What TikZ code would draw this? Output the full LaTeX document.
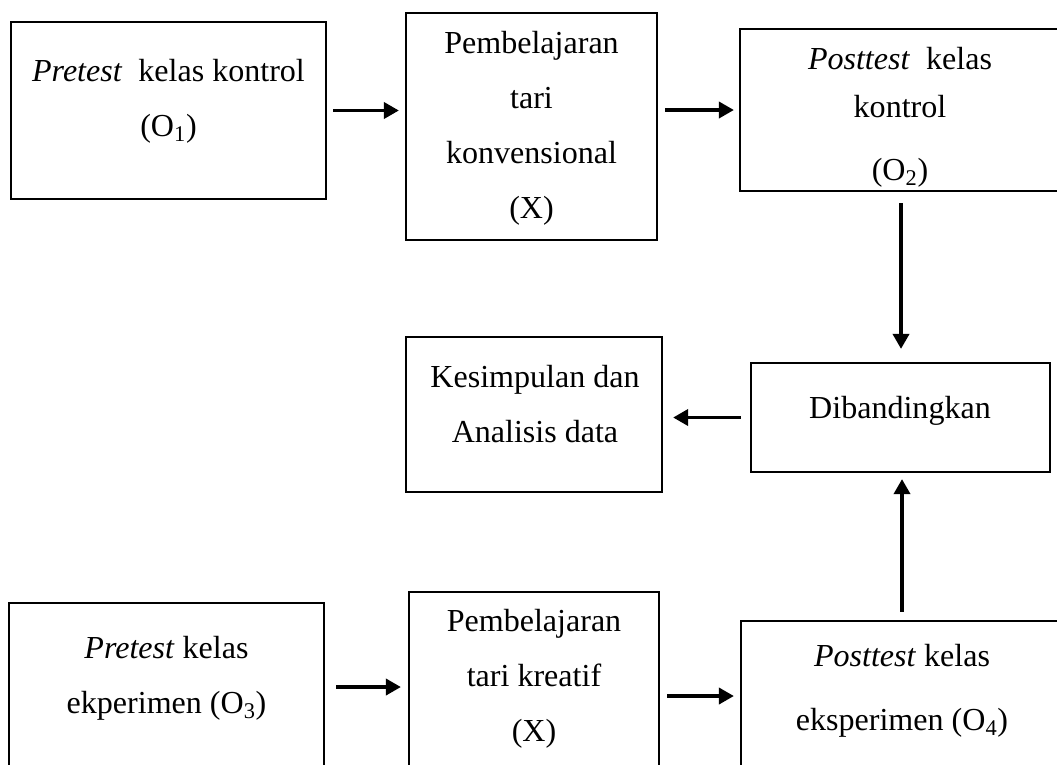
\documentclass[tikz,border=0pt]{standalone}
\usepackage{fontspec}
\setmainfont{Liberation Serif}
\usetikzlibrary{arrows.meta}

\begin{document}
\begin{tikzpicture}[
  >={Triangle[length=0.375cm,width=0.4cm]},
  box/.style={draw, line width=0.055cm, inner sep=0pt},
  txt/.style={align=center, inner sep=0pt, font=\fontsize{22.8}{39.1}\selectfont},
  arr/.style={->, line width=0.09cm},
]
\useasboundingbox (0,0) rectangle (26.425,-19.1);

% Kelas kontrol
\node[box, minimum width=7.875cm, minimum height=4.425cm] (pre1)   at ( 4.2125,-2.7625) {};
\node[box, minimum width=6.275cm, minimum height=5.675cm] (treat1) at (13.2875,-3.1625) {};
\node[box, minimum width=8.05cm,  minimum height=4.05cm]  (post1)  at (22.525,-2.75) {};

\node[txt] (pre1t)   at ( 4.2125,-2.5375) {\textit{Pretest}~ kelas kontrol\\(O\textsubscript{1})};
\node[txt] (treat1t) at (13.2875,-3.2) {Pembelajaran\\tari\\konvensional\\(X)};
\node[txt] (post1t)  at (22.5,-2.9375) {\textit{Posttest}~ kelas\\[-0.175cm]kontrol\\[0.2cm](O\textsubscript{2})};

% Perbandingan
\node[box, minimum width=7.475cm, minimum height=2.725cm] (dib) at (22.5125,-10.4375) {};
\node[box, minimum width=6.4cm,   minimum height=3.875cm] (kes) at (13.35,-10.3625) {};

\node[txt] (dibt) at (22.5,-10.2625) {Dibandingkan};
\node[txt] (kest) at (13.375,-10.1125) {Kesimpulan dan\\Analisis data};

% Kelas eksperimen
\node[box, minimum width=7.875cm, minimum height=4.2cm]  (pre2)   at ( 4.1625,-17.175) {};
\node[box, minimum width=6.25cm,  minimum height=4.5cm]  (treat2) at (13.35,-17.05) {};
\node[box, minimum width=8.05cm,  minimum height=3.75cm] (post2)  at (22.55,-17.4) {};

\node[txt] (pre2t)   at ( 4.1625,-16.9625) {\textit{Pretest} kelas\\ekperimen (O\textsubscript{3})};
\node[txt] (treat2t) at (13.35,-16.9625) {Pembelajaran\\tari kreatif\\(X)};
\node[txt] (post2t)  at (22.55,-17.275) {\textit{Posttest} kelas\\[0.225cm]eksperimen (O\textsubscript{4})};

% Alur
\draw[arr, shorten <=0.15cm,  shorten >=0.15cm]  (pre1.east) -- (pre1.east -| treat1.west);
\draw[arr, shorten <=0.175cm, shorten >=0.125cm] (post1.west -| treat1.east) -- (post1.west);
\draw[arr, shorten <=0.275cm, shorten >=0.325cm] (post1.south) -- (post1.south |- dib.north);
\draw[arr, shorten <=0.225cm, shorten >=0.25cm]  (dib.west) -- (dib.west -| kes.east);
\draw[arr, shorten <=0.2cm,   shorten >=0.15cm]  (post2.north) -- (post2.north |- dib.south);
\draw[arr, shorten <=0.275cm, shorten >=0.175cm] (pre2.east) -- (pre2.east -| treat2.west);
\draw[arr, shorten <=0.175cm, shorten >=0.15cm]  (post2.west -| treat2.east) -- (post2.west);

\end{tikzpicture}
\end{document}
